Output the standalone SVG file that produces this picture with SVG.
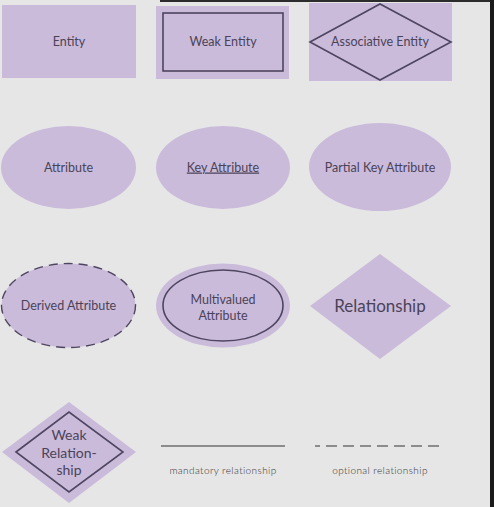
<svg xmlns="http://www.w3.org/2000/svg" width="494" height="507" viewBox="0 0 494 507">
<style>
.sh{fill:#cbbbdb}
.ln{fill:none;stroke:#4e4560;stroke-width:1.6}
.t{font-family:Lato,"Open Sans",sans-serif;fill:#4a4358;text-anchor:middle;font-size:12.5px}
.s{font-family:Lato,"Open Sans",sans-serif;font-weight:300;fill:#333;text-anchor:middle;font-size:10px;letter-spacing:0.4px}
</style>
<rect width="494" height="507" fill="#e6e6e6"/>
<rect x="160" y="0" width="334" height="2" fill="#2c2c2c"/>
<rect x="490" y="0" width="4" height="507" fill="#1a1a1a"/>
<g id="entity">
<rect class="sh" x="2" y="5" width="134" height="73"/>
<text class="t" x="69" y="46">Entity</text>
</g>
<g id="weak-entity">
<rect class="sh" x="156" y="6" width="133" height="73"/>
<rect class="ln" x="163" y="13" width="120" height="58"/>
<text class="t" x="223" y="46">Weak Entity</text>
</g>
<g id="associative-entity">
<rect class="sh" x="309" y="3" width="143" height="78"/>
<polygon class="ln" points="310,42 380,4 451,42 380,80"/>
<text class="t" x="380" y="46">Associative Entity</text>
</g>
<g id="attribute">
<ellipse class="sh" cx="68.5" cy="167.5" rx="67.5" ry="41.5"/>
<text class="t" x="68.5" y="171.5">Attribute</text>
</g>
<g id="key-attribute">
<ellipse class="sh" cx="223" cy="167.5" rx="67" ry="41.5"/>
<text class="t" x="223" y="171.5" text-decoration="underline">Key Attribute</text>
</g>
<g id="partial-key-attribute">
<ellipse class="sh" cx="380" cy="167" rx="71" ry="44"/>
<text class="t" x="380" y="171.5">Partial Key Attribute</text>
</g>
<g id="derived-attribute">
<ellipse class="sh" cx="68.5" cy="305.5" rx="67" ry="42"/>
<ellipse cx="68.5" cy="305.5" rx="67" ry="42" fill="none" stroke="#4e4560" stroke-width="1.4" stroke-dasharray="9,6"/>
<text class="t" x="68.5" y="310">Derived Attribute</text>
</g>
<g id="multivalued-attribute">
<ellipse class="sh" cx="223" cy="305.5" rx="67" ry="42"/>
<ellipse class="ln" cx="223" cy="305.5" rx="60" ry="35.5"/>
<text class="t" x="223" y="304">Multivalued</text>
<text class="t" x="223" y="320">Attribute</text>
</g>
<g id="relationship">
<polygon class="sh" points="310,306 380,254 451,306 380,359"/>
<text class="t" x="380" y="312" style="font-size:17px">Relationship</text>
</g>
<g id="weak-relationship">
<polygon class="sh" points="2,452 69,402 136,452 69,503"/>
<polygon class="ln" points="16,452 69,412 123,452 69,492"/>
<text class="t" x="69" y="440" style="font-size:14px">Weak</text>
<text class="t" x="69" y="458" style="font-size:14px">Relation-</text>
<text class="t" x="69" y="475" style="font-size:14px">ship</text>
</g>
<g id="connectors">
<line x1="161" y1="446" x2="285" y2="446" stroke="#333" stroke-width="1.2"/>
<line x1="315" y1="446" x2="445" y2="446" stroke="#333" stroke-width="1.2" stroke-dasharray="5,6,11,6,11,6,11,6,11,6,11,6,11,6,11,6,5"/>
</g>
<g id="legend-labels">
<text class="s" x="223" y="474">mandatory relationship</text>
<text class="s" x="380" y="474">optional relationship</text>
</g>
</svg>
